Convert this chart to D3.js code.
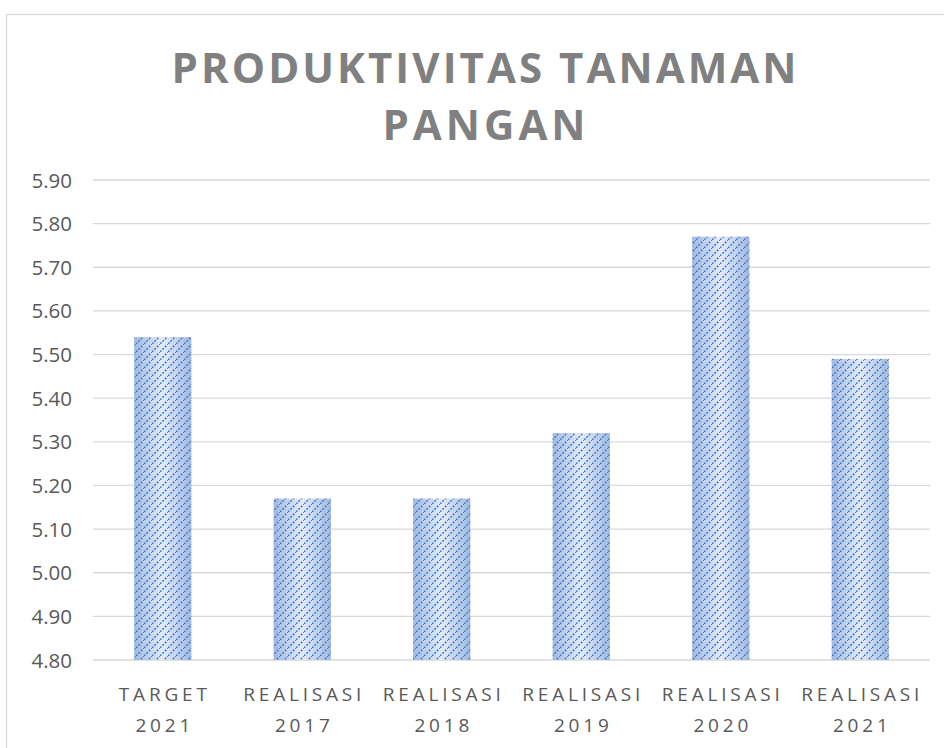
<!DOCTYPE html>
<html>
<head>
<meta charset="utf-8">
<script src="https://cdn.jsdelivr.net/npm/d3@7"></script>
<style>
  body { margin: 0; background: #fff; }
  svg { display: block; }
</style>
</head>
<body>
<div id="chart"></div>
<script>
// data
let categories = [['TARGET', '2021'], ['REALISASI', '2017'], ['REALISASI', '2018'],
    ['REALISASI', '2019'], ['REALISASI', '2020'], ['REALISASI', '2021']];
let values = [5.54, 5.17, 5.17, 5.32, 5.77, 5.49];
let yTicks = [4.80, 4.90, 5.00, 5.10, 5.20, 5.30, 5.40, 5.50, 5.60, 5.70, 5.80, 5.90];
let titleLines = ['PRODUKTIVITAS TANAMAN', 'PANGAN'];

let W = 944, H = 748;
let svg = d3.select('#chart').append('svg').attr('width', W).attr('height', H);

//外框
svg.append('rect').attr('x', 6.5).attr('y', 14.5).attr('width', 980).attr('height', 780)
    .attr('fill', 'none').attr('stroke', '#d9d9d9').attr('stroke-width', 1.2);

let defs = svg.append('defs');
// 横向渐变，两边深中间浅
let grad = defs.append('linearGradient').attr('id', 'barGrad')
    .attr('x1', '0%').attr('x2', '100%').attr('y1', '0%').attr('y2', '0%');
grad.append('stop').attr('offset', '0%').attr('stop-color', '#9fb9e2');
grad.append('stop').attr('offset', '50%').attr('stop-color', '#e3ebf7');
grad.append('stop').attr('offset', '100%').attr('stop-color', '#9fb9e2');
// 斜线花纹
let pat = defs.append('pattern').attr('id', 'stripes')
    .attr('patternUnits', 'userSpaceOnUse').attr('width', 8).attr('height', 8);
pat.append('path')
    .attr('d', 'M-2,2 L2,-2 M0,8 L8,0 M6,10 L10,6')
    .attr('stroke', '#4a7bc9').attr('stroke-width', 1.5)
    .attr('stroke-dasharray', '2,1.4').attr('fill', 'none');

let mLeft = 93, mRight = 930, mTop = 180, mBottom = 660;

let x = d3.scaleBand().domain(d3.range(categories.length)).range([mLeft, mRight]).paddingInner(0.59).paddingOuter(0.295);
let y = d3.scaleLinear().domain([4.80, 5.90]).range([mBottom, mTop]);

//网格线
svg.append('g').selectAll('line').data(yTicks).enter().append('line')
    .attr('x1', mLeft).attr('x2', mRight)
    .attr('y1', d => y(d)).attr('y2', d => y(d))
    .attr('stroke', '#d9d9d9').attr('stroke-width', 1.3);

//y轴文字
svg.append('g').selectAll('text').data(yTicks).enter().append('text')
    .attr('x', 72).attr('y', d => y(d) + 7.5)
    .attr('text-anchor', 'end')
    .attr('font-family', 'Open Sans, sans-serif').attr('font-size', 20.5)
    .attr('fill', '#595959')
    .text(d => d.toFixed(2));

//柱子
let bars = svg.append('g');
bars.selectAll('rect.bg').data(values).enter().append('rect').attr('class', 'bg')
    .attr('x', (d, i) => x(i)).attr('width', x.bandwidth())
    .attr('y', d => y(d)).attr('height', d => y(4.80) - y(d))
    .attr('fill', 'url(#barGrad)');
bars.selectAll('rect.st').data(values).enter().append('rect').attr('class', 'st')
    .attr('x', (d, i) => x(i)).attr('width', x.bandwidth())
    .attr('y', d => y(d)).attr('height', d => y(4.80) - y(d))
    .attr('fill', 'url(#stripes)');

//x轴文字
let xl = svg.append('g').selectAll('text').data(categories).enter().append('text')
    .attr('text-anchor', 'middle')
    .attr('font-family', 'Open Sans, sans-serif').attr('font-size', 19)
    .attr('letter-spacing', 3.8)
    .attr('fill', '#595959');
xl.append('tspan').attr('x', (d, i) => x(i) + x.bandwidth() / 2 + 2).attr('y', 701).text(d => d[0]);
xl.append('tspan').attr('x', (d, i) => x(i) + x.bandwidth() / 2 + 2).attr('y', 732).text(d => d[1]);

//标题
let titleW = [625, 170];
titleLines.forEach(function (t, i) {
    let tx = svg.append('text')
        .attr('x', 484).attr('y', 83 + i * 57)
        .attr('text-anchor', 'middle')
        .attr('font-family', 'Open Sans, sans-serif').attr('font-weight', 'bold')
        .attr('font-size', 42).attr('fill', '#808080')
        .text(t);
    let w = tx.node().getComputedTextLength();
    let ls = i === 0 ? (titleW[0] - w) / (t.length - 1) : 4;
    tx.attr('letter-spacing', ls).attr('x', 484 + ls / 2);
});
</script>
</body>
</html>
